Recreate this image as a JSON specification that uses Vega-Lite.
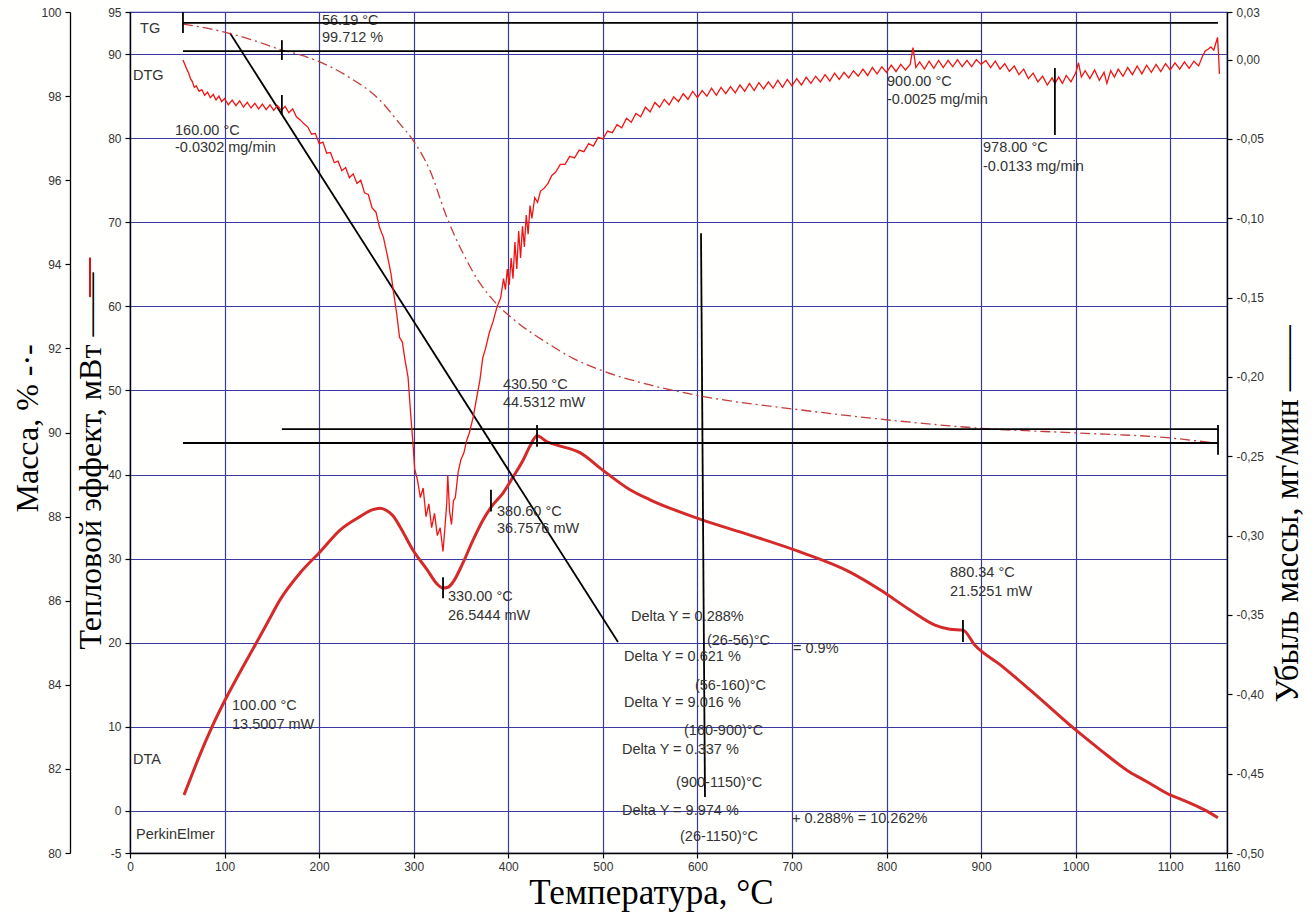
{
"$schema": "https://vega.github.io/schema/vega-lite/v6.json",
"width": 1097,
"height": 841,
"autosize": {"type": "none"},
"padding": {"left": 130, "top": 12, "right": 87, "bottom": 60},
"background": "#fffffd",
"config": {
 "view": {"stroke": "#3a3aa0", "strokeWidth": 1.2},
 "axis": {"labelFont": "Liberation Sans", "labelFontSize": 12, "labelColor": "#333333", "domainColor": "#000000", "domainWidth": 1.3, "tickColor": "#000000", "tickSize": 5, "tickWidth": 1.2, "titleFont": "Liberation Serif", "titleFontSize": 32, "titleFontWeight": "normal", "titleColor": "#000000", "gridColor": "#3a3aa0", "gridWidth": 1.2, "gridOpacity": 1, "labelOverlap": false, "labelFlush": false}
},
"datasets": {
 "dta": [
  {"T":57.1,"v":1.9},{"T":63.4,"v":3.7},{"T":74.0,"v":6.7},{"T":86.7,"v":10.0},{"T":101.5,"v":13.4},{"T":116.3,"v":16.5},{"T":132.2,"v":19.7},{"T":145.9,"v":22.5},{"T":158.6,"v":25.1},{"T":179.8,"v":28.3},{"T":200.9,"v":30.8},{"T":222.1,"v":33.4},{"T":243.2,"v":35.0},{"T":255.9,"v":35.8},{"T":264.4,"v":36.0},{"T":271.8,"v":35.7},{"T":278.1,"v":35.1},{"T":285.5,"v":33.8},{"T":299.3,"v":31.0},{"T":314.1,"v":28.7},{"T":324.6,"v":27.0},{"T":331.0,"v":26.5},{"T":336.3,"v":26.6},{"T":341.5,"v":27.2},{"T":352.1,"v":29.5},{"T":362.7,"v":32.2},{"T":373.3,"v":34.6},{"T":381.7,"v":36.1},{"T":394.4,"v":37.8},{"T":405.0,"v":39.7},{"T":415.6,"v":41.7},{"T":423.0,"v":43.4},{"T":430.4,"v":44.6},{"T":441.0,"v":43.9},{"T":451.5,"v":43.5},{"T":475.8,"v":42.6},{"T":500.2,"v":40.5},{"T":528.7,"v":38.2},{"T":549.9,"v":37.0},{"T":602.7,"v":34.7},{"T":655.6,"v":32.8},{"T":708.5,"v":30.8},{"T":761.3,"v":28.4},{"T":793.1,"v":26.3},{"T":824.8,"v":23.9},{"T":851.2,"v":22.1},{"T":867.1,"v":21.6},{"T":880.8,"v":21.5},{"T":893.5,"v":19.7},{"T":920.0,"v":17.4},{"T":951.7,"v":14.4},{"T":1000.3,"v":9.6},{"T":1025.7,"v":7.3},{"T":1057.4,"v":4.6},{"T":1075.0,"v":3.5},{"T":1099.7,"v":1.9},{"T":1113.5,"v":1.3},{"T":1136.7,"v":0.1},{"T":1150.4,"v":-0.8}
 ],
 "tg": [
  {"T":56,"v":99.712},{"T":80,"v":99.62},{"T":100,"v":99.52},{"T":130,"v":99.33},{"T":160,"v":99.10},{"T":180,"v":98.98},{"T":200,"v":98.82},{"T":233,"v":98.43},{"T":264,"v":97.91},{"T":285,"v":97.35},{"T":299,"v":96.96},{"T":317,"v":96.24},{"T":335,"v":95.12},{"T":352,"v":94.27},{"T":370,"v":93.55},{"T":388,"v":93.05},{"T":405,"v":92.70},{"T":441,"v":92.13},{"T":468,"v":91.77},{"T":497,"v":91.49},{"T":550,"v":91.13},{"T":603,"v":90.87},{"T":708,"v":90.54},{"T":814,"v":90.27},{"T":900,"v":90.10},{"T":1000,"v":89.99},{"T":1100,"v":89.87},{"T":1150,"v":89.74}
 ],
 "dtg": [
  {"T":56,"v":-0.0003},{"T":58,"v":-0.0030},{"T":60,"v":-0.0060},{"T":62,"v":-0.0085},{"T":64,"v":-0.0120},{"T":66,"v":-0.0140},{"T":68,"v":-0.0175},{"T":70,"v":-0.0165},{"T":73,"v":-0.0200},{"T":76,"v":-0.0190},{"T":79,"v":-0.0225},{"T":82,"v":-0.0205},{"T":85,"v":-0.0240},{"T":88,"v":-0.0220},{"T":91,"v":-0.0255},{"T":94,"v":-0.0230},{"T":97,"v":-0.0265},{"T":100,"v":-0.0245},{"T":104,"v":-0.0285},{"T":108,"v":-0.0255},{"T":112,"v":-0.0290},{"T":116,"v":-0.0260},{"T":120,"v":-0.0300},{"T":124,"v":-0.0270},{"T":128,"v":-0.0305},{"T":132,"v":-0.0275},{"T":136,"v":-0.0310},{"T":140,"v":-0.0280},{"T":144,"v":-0.0315},{"T":148,"v":-0.0285},{"T":152,"v":-0.0320},{"T":156,"v":-0.0290},{"T":160,"v":-0.0320},{"T":164,"v":-0.0295},{"T":168,"v":-0.0335},{"T":172,"v":-0.0310},{"T":176,"v":-0.0360},{"T":180,"v":-0.0380},{"T":184,"v":-0.0405},{"T":188,"v":-0.0425},{"T":192,"v":-0.0470},{"T":196,"v":-0.0465},{"T":200,"v":-0.0530},{"T":204,"v":-0.0520},{"T":208,"v":-0.0590},{"T":212,"v":-0.0585},{"T":216,"v":-0.0650},{"T":220,"v":-0.0640},{"T":224,"v":-0.0700},{"T":228,"v":-0.0680},{"T":232,"v":-0.0745},{"T":236,"v":-0.0720},{"T":240,"v":-0.0780},{"T":244,"v":-0.0760},{"T":248,"v":-0.0840},{"T":252,"v":-0.0850},{"T":256,"v":-0.0935},{"T":260,"v":-0.0960},{"T":264,"v":-0.1060},{"T":268,"v":-0.1120},{"T":272,"v":-0.1230},{"T":276,"v":-0.1350},{"T":279,"v":-0.1480},{"T":282,"v":-0.1600},{"T":285,"v":-0.1750},{"T":288,"v":-0.1780},{"T":291,"v":-0.1900},{"T":294,"v":-0.2000},{"T":297,"v":-0.2250},{"T":299,"v":-0.2400},{"T":301,"v":-0.2580},{"T":304,"v":-0.2650},{"T":307,"v":-0.2760},{"T":310,"v":-0.2700},{"T":313,"v":-0.2880},{"T":316,"v":-0.2800},{"T":319,"v":-0.2950},{"T":322,"v":-0.2860},{"T":325,"v":-0.3000},{"T":328,"v":-0.2950},{"T":331,"v":-0.3100},{"T":333,"v":-0.2950},{"T":335,"v":-0.2790},{"T":336,"v":-0.2620},{"T":338,"v":-0.2850},{"T":340,"v":-0.2930},{"T":342,"v":-0.2780},{"T":344,"v":-0.2760},{"T":347,"v":-0.2600},{"T":350,"v":-0.2520},{"T":353,"v":-0.2480},{"T":356,"v":-0.2400},{"T":359,"v":-0.2350},{"T":363,"v":-0.2250},{"T":366,"v":-0.2150},{"T":370,"v":-0.2020},{"T":373,"v":-0.1880},{"T":376,"v":-0.1820},{"T":380,"v":-0.1720},{"T":384,"v":-0.1650},{"T":388,"v":-0.1560},{"T":392,"v":-0.1500},{"T":395,"v":-0.1380},{"T":397,"v":-0.1450},{"T":399,"v":-0.1320},{"T":401,"v":-0.1420},{"T":403,"v":-0.1250},{"T":405,"v":-0.1380},{"T":407,"v":-0.1150},{"T":409,"v":-0.1320},{"T":411,"v":-0.1080},{"T":413,"v":-0.1250},{"T":415,"v":-0.1050},{"T":417,"v":-0.1180},{"T":419,"v":-0.0980},{"T":421,"v":-0.1100},{"T":423,"v":-0.0920},{"T":425,"v":-0.1000},{"T":428,"v":-0.0870},{"T":431,"v":-0.0900},{"T":434,"v":-0.0830},{"T":438,"v":-0.0810},{"T":442,"v":-0.0780},{"T":446,"v":-0.0730},{"T":450,"v":-0.0710},{"T":455,"v":-0.0660},{"T":460,"v":-0.0660},{"T":465,"v":-0.0610},{"T":470,"v":-0.0620},{"T":475,"v":-0.0570},{"T":480,"v":-0.0580},{"T":485,"v":-0.0530},{"T":490,"v":-0.0545},{"T":495,"v":-0.0490},{"T":500,"v":-0.0500},{"T":505,"v":-0.0450},{"T":510,"v":-0.0460},{"T":515,"v":-0.0410},{"T":520,"v":-0.0430},{"T":525,"v":-0.0370},{"T":530,"v":-0.0395},{"T":535,"v":-0.0340},{"T":540,"v":-0.0360},{"T":545,"v":-0.0300},{"T":550,"v":-0.0330},{"T":555,"v":-0.0270},{"T":560,"v":-0.0300},{"T":565,"v":-0.0250},{"T":570,"v":-0.0285},{"T":575,"v":-0.0235},{"T":580,"v":-0.0265},{"T":585,"v":-0.0215},{"T":590,"v":-0.0250},{"T":595,"v":-0.0200},{"T":600,"v":-0.0240},{"T":605,"v":-0.0195},{"T":610,"v":-0.0230},{"T":615,"v":-0.0180},{"T":620,"v":-0.0225},{"T":625,"v":-0.0175},{"T":630,"v":-0.0215},{"T":635,"v":-0.0170},{"T":640,"v":-0.0210},{"T":645,"v":-0.0160},{"T":650,"v":-0.0200},{"T":655,"v":-0.0150},{"T":660,"v":-0.0195},{"T":665,"v":-0.0145},{"T":670,"v":-0.0185},{"T":675,"v":-0.0140},{"T":680,"v":-0.0180},{"T":685,"v":-0.0130},{"T":690,"v":-0.0175},{"T":695,"v":-0.0125},{"T":700,"v":-0.0165},{"T":705,"v":-0.0120},{"T":710,"v":-0.0160},{"T":715,"v":-0.0110},{"T":720,"v":-0.0150},{"T":725,"v":-0.0105},{"T":730,"v":-0.0140},{"T":735,"v":-0.0095},{"T":740,"v":-0.0135},{"T":745,"v":-0.0085},{"T":750,"v":-0.0125},{"T":755,"v":-0.0080},{"T":760,"v":-0.0115},{"T":765,"v":-0.0070},{"T":770,"v":-0.0105},{"T":775,"v":-0.0060},{"T":780,"v":-0.0100},{"T":785,"v":-0.0050},{"T":790,"v":-0.0090},{"T":795,"v":-0.0045},{"T":800,"v":-0.0080},{"T":805,"v":-0.0035},{"T":810,"v":-0.0075},{"T":815,"v":-0.0030},{"T":820,"v":-0.0065},{"T":825,"v":-0.0030},{"T":828,"v":0.0075},{"T":831,"v":-0.0050},{"T":835,"v":-0.0015},{"T":840,"v":-0.0060},{"T":845,"v":-0.0010},{"T":850,"v":-0.0055},{"T":855,"v":-0.0005},{"T":860,"v":-0.0050},{"T":865,"v":-0.0005},{"T":870,"v":-0.0045},{"T":875,"v":0.0000},{"T":880,"v":-0.0045},{"T":885,"v":-0.0005},{"T":890,"v":-0.0045},{"T":895,"v":0.0000},{"T":900,"v":-0.0030},{"T":905,"v":-0.0005},{"T":910,"v":-0.0050},{"T":915,"v":-0.0010},{"T":920,"v":-0.0060},{"T":925,"v":-0.0025},{"T":930,"v":-0.0075},{"T":935,"v":-0.0040},{"T":940,"v":-0.0095},{"T":945,"v":-0.0060},{"T":950,"v":-0.0120},{"T":955,"v":-0.0085},{"T":960,"v":-0.0140},{"T":965,"v":-0.0105},{"T":970,"v":-0.0160},{"T":975,"v":-0.0115},{"T":978,"v":-0.0150},{"T":982,"v":-0.0110},{"T":986,"v":-0.0150},{"T":990,"v":-0.0100},{"T":995,"v":-0.0140},{"T":1000,"v":-0.0085},{"T":1003,"v":-0.0020},{"T":1006,"v":-0.0110},{"T":1010,"v":-0.0070},{"T":1015,"v":-0.0120},{"T":1020,"v":-0.0065},{"T":1025,"v":-0.0130},{"T":1030,"v":-0.0080},{"T":1033,"v":-0.0150},{"T":1037,"v":-0.0070},{"T":1041,"v":-0.0110},{"T":1045,"v":-0.0060},{"T":1050,"v":-0.0105},{"T":1055,"v":-0.0050},{"T":1060,"v":-0.0095},{"T":1065,"v":-0.0040},{"T":1070,"v":-0.0090},{"T":1075,"v":-0.0035},{"T":1080,"v":-0.0080},{"T":1085,"v":-0.0030},{"T":1090,"v":-0.0075},{"T":1095,"v":-0.0025},{"T":1100,"v":-0.0065},{"T":1105,"v":-0.0020},{"T":1110,"v":-0.0060},{"T":1115,"v":-0.0015},{"T":1120,"v":-0.0055},{"T":1125,"v":-0.0010},{"T":1130,"v":-0.0040},{"T":1134,"v":0.0020},{"T":1137,"v":0.0055},{"T":1140,"v":0.0065},{"T":1143,"v":0.0080},{"T":1146,"v":0.0060},{"T":1148,"v":0.0100},{"T":1150,"v":0.0140},{"T":1151,"v":0.0040},{"T":1152,"v":-0.0090}
 ],
 "ann": [
  {"T":10.6,"v":92.99,"label":"TG"},
  {"T":3.2,"v":87.4,"label":"DTG"},
  {"T":203.0,"v":93.94,"label":"56.19 °C"},
  {"T":203.0,"v":91.91,"label":"99.712 %"},
  {"T":47.6,"v":80.86,"label":"160.00 °C"},
  {"T":47.6,"v":78.83,"label":"-0.0302 mg/min"},
  {"T":800.5,"v":86.68,"label":"900.00 °C"},
  {"T":800.5,"v":84.54,"label":"-0.0025 mg/min"},
  {"T":902.0,"v":78.83,"label":"978.00 °C"},
  {"T":902.0,"v":76.55,"label":"-0.0133 mg/min"},
  {"T":394.4,"v":50.65,"label":"430.50 °C"},
  {"T":394.4,"v":48.51,"label":"44.5312 mW"},
  {"T":388.1,"v":35.55,"label":"380.60 °C"},
  {"T":388.1,"v":33.53,"label":"36.7576 mW"},
  {"T":336.3,"v":25.45,"label":"330.00 °C"},
  {"T":336.3,"v":23.19,"label":"26.5444 mW"},
  {"T":867.1,"v":28.3,"label":"880.34 °C"},
  {"T":867.1,"v":26.04,"label":"21.5251 mW"},
  {"T":107.9,"v":12.49,"label":"100.00 °C"},
  {"T":107.9,"v":10.23,"label":"13.5007 mW"},
  {"T":3.2,"v":6.06,"label":"DTA"},
  {"T":6.3,"v":-2.85,"label":"PerkinElmer"},
  {"T":529.8,"v":23.07,"label":"Delta Y = 0.288%"},
  {"T":610.1,"v":20.21,"label":"(26-56)°C"},
  {"T":701.1,"v":19.26,"label":"= 0.9%"},
  {"T":522.4,"v":18.31,"label":"Delta Y = 0.621 %"},
  {"T":597.4,"v":14.86,"label":"(56-160)°C"},
  {"T":522.4,"v":12.84,"label":"Delta Y = 9.016 %"},
  {"T":585.8,"v":9.51,"label":"(160-900)°C"},
  {"T":520.3,"v":7.25,"label":"Delta Y = 0.337 %"},
  {"T":577.4,"v":3.33,"label":"(900-1150)°C"},
  {"T":520.3,"v":0.0,"label":"Delta Y = 9.974 %"},
  {"T":700.0,"v":-0.95,"label":"+ 0.288% = 10.262%"},
  {"T":581.6,"v":-3.09,"label":"(26-1150)°C"}
 ],
 "segA": [
  {"T":105.7,"T2":516.0,"v":92.5,"v2":20.1},
  {"T":603.8,"T2":608.0,"v":68.7,"v2":1.66},
  {"T":331.0,"T2":331.0,"v":27.8,"v2":25.3},
  {"T":381.7,"T2":381.7,"v":38.2,"v2":35.6},
  {"T":430.4,"T2":430.4,"v":45.9,"v2":43.3},
  {"T":880.8,"T2":880.8,"v":22.7,"v2":20.1}
 ],
 "legA": [
  {"T":-42.3,"T2":-42.3,"v":65.8,"v2":61.1}
 ],
 "segM": [
  {"T":56,"T2":1150.5,"v":99.74,"v2":99.74},
  {"T":56,"T2":901,"v":99.07,"v2":99.07},
  {"T":160.6,"T2":1150.5,"v":90.08,"v2":90.08},
  {"T":56,"T2":1150.5,"v":89.75,"v2":89.75},
  {"T":56,"T2":56,"v":100,"v2":99.5},
  {"T":160.6,"T2":160.6,"v":99.33,"v2":98.86},
  {"T":1150.5,"T2":1150.5,"v":90.18,"v2":89.47}
 ],
 "segD": [
  {"T":160.6,"T2":160.6,"v":-0.0223,"v2":-0.0349},
  {"T":978,"T2":978,"v":-0.0053,"v2":-0.0475}
 ]
},
"encoding": {
 "x": {"field": "T", "type": "quantitative",
  "scale": {"domain": [0, 1160], "nice": false, "zero": false},
  "axis": {"values": [0,100,200,300,400,500,600,700,800,900,1000,1100,1160], "format": "d", "grid": true, "labelPadding": 3,
   "title": "Температура, °С", "titleFontSize": 35, "titleX": 521, "titleY": 50, "titleAlign": "center", "titleBaseline": "alphabetic"}}
},
"layer": [
 {
  "encoding": {"y": {"field": "v", "type": "quantitative",
   "scale": {"domain": [-5, 95], "nice": false, "zero": false},
   "axis": {"orient": "left", "values": [-5,0,10,20,30,40,50,60,70,80,90,95], "grid": true, "labelPadding": 4,
    "labelExpr": "replace(format(datum.value,'d'),'\u2212','-')",
    "title": "Тепловой эффект, мВт ——", "titleAngle": -90, "titleAlign": "left", "titleBaseline": "alphabetic", "titleX": -30, "titleY": 637}}},
  "layer": [
   {"data": {"name": "dta"}, "mark": {"type": "line", "color": "#d42a2a", "strokeWidth": 3, "interpolate": "monotone"}},
   {"data": {"name": "segA"}, "mark": {"type": "rule", "color": "#000000", "strokeWidth": 1.8}, "encoding": {"x2": {"field": "T2"}, "y2": {"field": "v2"}}},
   {"data": {"name": "legA"}, "mark": {"type": "rule", "color": "#e01010", "strokeWidth": 2}, "encoding": {"x2": {"field": "T2"}, "y2": {"field": "v2"}}},
   {"data": {"name": "ann"}, "mark": {"type": "text", "align": "left", "baseline": "middle", "font": "Liberation Sans", "fontSize": 14.5, "color": "#333333"}, "encoding": {"text": {"field": "label"}}}
  ]
 },
 {
  "encoding": {"y": {"field": "v", "type": "quantitative",
   "scale": {"domain": [80, 100], "nice": false, "zero": false},
   "axis": {"orient": "left", "offset": 60, "values": [80,82,84,86,88,90,92,94,96,98,100], "grid": false, "labelPadding": 4,
    "title": "Масса, % -·-", "titleAngle": -90, "titleAlign": "left", "titleBaseline": "alphabetic", "titleX": -33, "titleY": 500}}},
  "layer": [
   {"data": {"name": "tg"}, "mark": {"type": "line", "color": "#c43c3c", "strokeWidth": 1.3, "strokeDash": [10, 4, 2, 4], "interpolate": "monotone"}},
   {"data": {"name": "segM"}, "mark": {"type": "rule", "color": "#000000", "strokeWidth": 1.8}, "encoding": {"x2": {"field": "T2"}, "y2": {"field": "v2"}}}
  ]
 },
 {
  "encoding": {"y": {"field": "v", "type": "quantitative",
   "scale": {"domain": [-0.5, 0.03], "nice": false, "zero": false},
   "axis": {"orient": "right", "values": [0.03,0,-0.05,-0.1,-0.15,-0.2,-0.25,-0.3,-0.35,-0.4,-0.45,-0.5], "grid": false, "labelPadding": 4,
    "labelExpr": "replace(replace(format(datum.value,'.2f'),'.',','),'\u2212','-')",
    "title": "Убыль массы, мг/мин ——", "titleFontSize": 33, "titleAngle": -90, "titleAlign": "left", "titleBaseline": "alphabetic", "titleX": 70, "titleY": 690}}},
  "layer": [
   {"data": {"name": "dtg"}, "mark": {"type": "line", "color": "#f01414", "strokeWidth": 1.3}},
   {"data": {"name": "segD"}, "mark": {"type": "rule", "color": "#000000", "strokeWidth": 1.8}, "encoding": {"x2": {"field": "T2"}, "y2": {"field": "v2"}}}
  ]
 }
],
"resolve": {"scale": {"y": "independent"}}
}
